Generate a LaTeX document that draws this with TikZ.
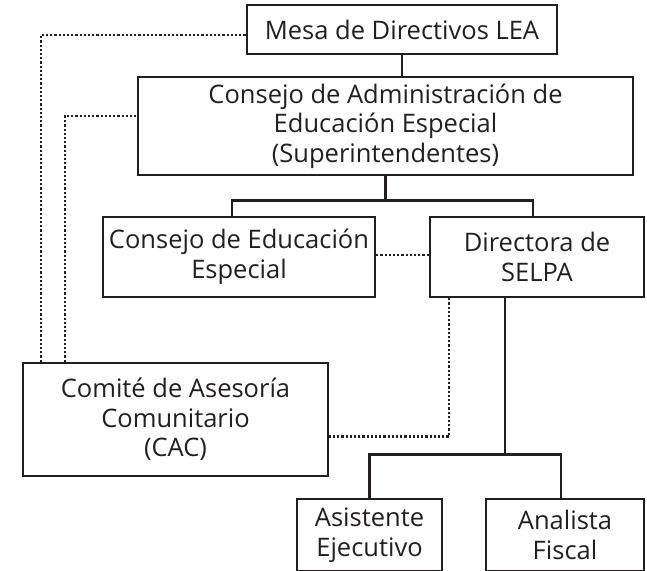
\documentclass[tikz,border=0pt]{standalone}
\usepackage{fontspec}
\setmainfont{Open Sans}
\usetikzlibrary{positioning}
\definecolor{ink}{HTML}{231F20}

\begin{document}
\begin{tikzpicture}[x=1pt,y=-1pt,
        box/.style={draw=ink,text=ink,line width=2.5pt,align=center,inner sep=0pt,
            font=\fontsize{25.5}{29.5}\selectfont},
        solid line/.style={draw=ink,line width=2.5pt},
        dots/.style={draw=ink,line width=2.5pt,dash pattern=on 2.2pt off 2pt}]
    \useasboundingbox (0,0) rectangle (647,570);
    \node [box,minimum width=310pt,minimum height=49pt] (mesa) at (402,29.5)
        {Mesa de Directivos LEA};
    \node [box,minimum width=495pt,minimum height=98pt] (admin) at (385.5,126)
        {Consejo de Administración de\\Educación Especial\\(Superintendentes)};
    \node [box,minimum width=272pt,minimum height=80pt] (consejo) at (239,257)
        {Consejo de Educación\\Especial};
    \node [box,minimum width=214pt,minimum height=80pt] (selpa) at (537,257)
        {Directora de\\SELPA};
    \node [box,minimum width=305pt,minimum height=113pt] (cac) at (175.5,419.5)
        {Comité de Asesoría\\Comunitario\\(CAC)};
    \node [box,minimum width=145pt,minimum height=72pt] (asistente) at (369.5,535)
        {Asistente\\Ejecutivo};
    \node [box,minimum width=158pt,minimum height=72pt] (analista) at (565,535)
        {Analista\\Fiscal};

    % lineas de mando
    \draw [solid line] (mesa.south) -- (mesa.south |- admin.north);
    \coordinate (bus1) at ([yshift=-24pt]admin.south);
    \draw [solid line] (admin.south) -- (bus1);
    \draw [solid line] ([xshift=-7pt]consejo.north) |- (bus1) -| ([xshift=-4pt]selpa.north);
    \coordinate (bus2) at ([xshift=-32pt,yshift=-156pt]selpa.south);
    \draw [solid line] ([xshift=-32pt]selpa.south) -- (bus2);
    \draw [solid line] (asistente.north) |- (bus2) -| ([xshift=-4pt]analista.north);

    % lineas de consulta
    \draw [dots] ([yshift=2pt]consejo.east) -- ([yshift=2pt]consejo.east -| selpa.west);
    \draw [dots] ([xshift=-88pt]selpa.south) |- ([yshift=-17pt]cac.east);
    \draw [dots] ([xshift=-134.5pt]cac.north) |- ([yshift=-5.5pt]mesa.west);
    \draw [dots] ([xshift=-110.5pt]cac.north) |- ([yshift=10pt]admin.west);
\end{tikzpicture}
\end{document}
